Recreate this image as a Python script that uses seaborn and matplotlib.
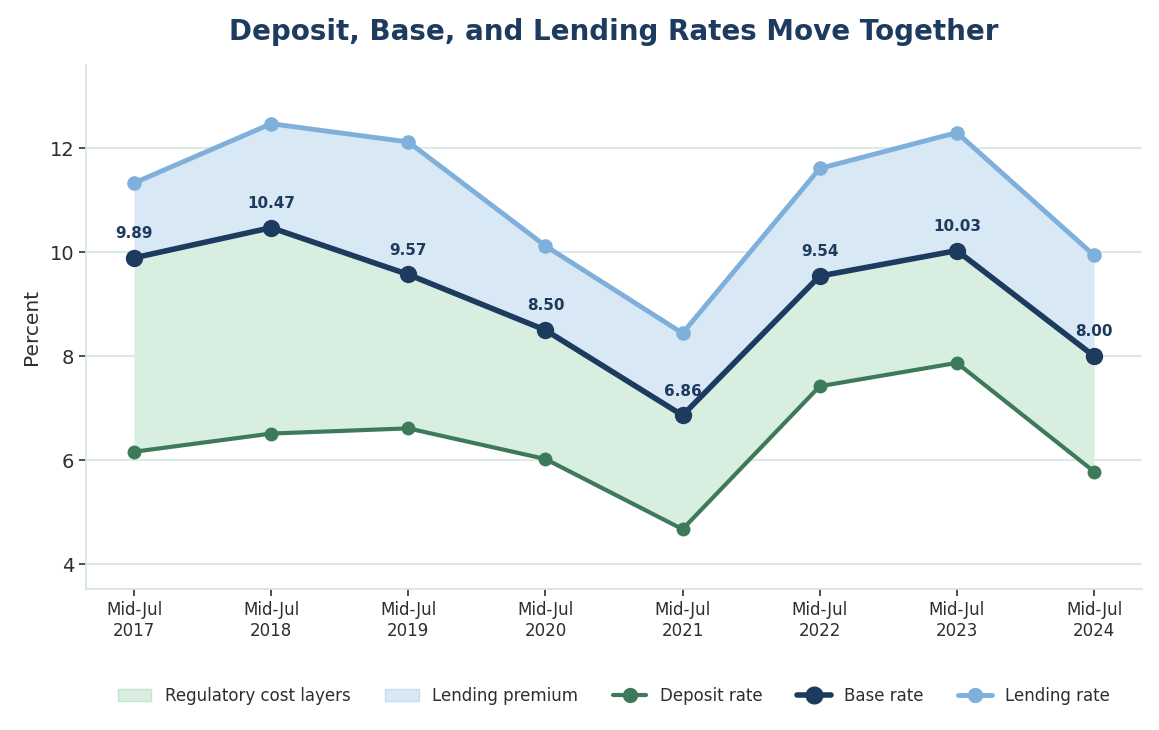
import matplotlib
matplotlib.use("Agg")
import matplotlib.pyplot as plt
import seaborn as sns
import pandas as pd
from matplotlib.patches import Patch
from matplotlib.lines import Line2D

years = ["Mid-Jul\n2017", "Mid-Jul\n2018", "Mid-Jul\n2019", "Mid-Jul\n2020",
         "Mid-Jul\n2021", "Mid-Jul\n2022", "Mid-Jul\n2023", "Mid-Jul\n2024"]
deposit_rate = [6.16, 6.51, 6.61, 6.02, 4.67, 7.42, 7.87, 5.78]
base_rate = [9.89, 10.47, 9.57, 8.50, 6.86, 9.54, 10.03, 8.00]
lending_rate = [11.33, 12.47, 12.12, 10.12, 8.44, 11.61, 12.30, 9.94]

C_DEP = "#3d7a5a"
C_BASE = "#1d3a5f"
C_LEND = "#7fb0db"
F_GREEN = "#d8eee0"
F_BLUE = "#d9e8f5"
TXT = "#2b2f2e"
GRID = "#d6e6e1"

sns.set_theme(style="white")
plt.rcParams["font.family"] = ["DejaVu Sans"]

x = list(range(len(years)))
df = pd.DataFrame({"x": x, "deposit": deposit_rate, "base": base_rate, "lending": lending_rate})

fig = plt.figure(figsize=(11.59, 7.30), dpi=100)
ax = fig.add_axes([86/1159, 1-589/730, (1142-86)/1159, (589-65)/730])

ax.fill_between(df["x"], df["deposit"], df["base"], color=F_GREEN, linewidth=0, zorder=1)
ax.fill_between(df["x"], df["base"], df["lending"], color=F_BLUE, linewidth=0, zorder=1)

sns.lineplot(data=df, x="x", y="deposit", ax=ax, color=C_DEP, linewidth=3,
             marker="o", markersize=10, markeredgewidth=0, zorder=3)
sns.lineplot(data=df, x="x", y="lending", ax=ax, color=C_LEND, linewidth=3.5,
             marker="o", markersize=10.5, markeredgewidth=0, zorder=3)
sns.lineplot(data=df, x="x", y="base", ax=ax, color=C_BASE, linewidth=4,
             marker="o", markersize=12.5, markeredgewidth=0, zorder=4)

for xi, v in zip(x, base_rate):
    ax.annotate(f"{v:.2f}", (xi, v), xytext=(0, 12), textcoords="offset points",
                ha="center", va="bottom", fontsize=11, fontweight="bold", color=C_BASE, zorder=5)

ax.set_xlim(-0.35, 7.35)
ax.set_ylim(3.52, 13.6)
ax.set_xticks(x)
ax.set_xticklabels(years, fontsize=12, color=TXT)
ax.set_yticks([4, 6, 8, 10, 12])
ax.tick_params(axis="y", labelsize=14, colors=TXT, length=5, width=1.2, left=True)
ax.tick_params(axis="x", colors=TXT, length=5, width=1.2, bottom=True)
ax.set_xlabel("")
ax.set_ylabel("Percent", fontsize=14.5, color=TXT, labelpad=6)
ax.grid(axis="y", color=GRID, linewidth=1.2, zorder=0)
ax.grid(axis="x", visible=False)
ax.set_axisbelow(True)
for s in ["top", "right"]:
    ax.spines[s].set_visible(False)
for s in ["left", "bottom"]:
    ax.spines[s].set_color(GRID)
    ax.spines[s].set_linewidth(1.3)

ax.set_title("Deposit, Base, and Lending Rates Move Together", fontsize=20,
             fontweight="bold", color=C_BASE, pad=18)

handles = [
    Patch(facecolor=F_GREEN, edgecolor="#c5e4d0", label="Regulatory cost layers"),
    Patch(facecolor=F_BLUE, edgecolor="#c6dcef", label="Lending premium"),
    Line2D([0], [0], color=C_DEP, linewidth=3, marker="o", markersize=10, label="Deposit rate"),
    Line2D([0], [0], color=C_BASE, linewidth=4, marker="o", markersize=12, label="Base rate"),
    Line2D([0], [0], color=C_LEND, linewidth=3.5, marker="o", markersize=10, label="Lending rate"),
]
leg = fig.legend(handles=handles, loc="center", bbox_to_anchor=(614/1159, 1-696/730), ncol=5,
                 frameon=False, fontsize=12, columnspacing=2.1, handlelength=2.0,
                 handletextpad=0.8)
for t in leg.get_texts():
    t.set_color(TXT)

fig.savefig("out.png", dpi=100)
